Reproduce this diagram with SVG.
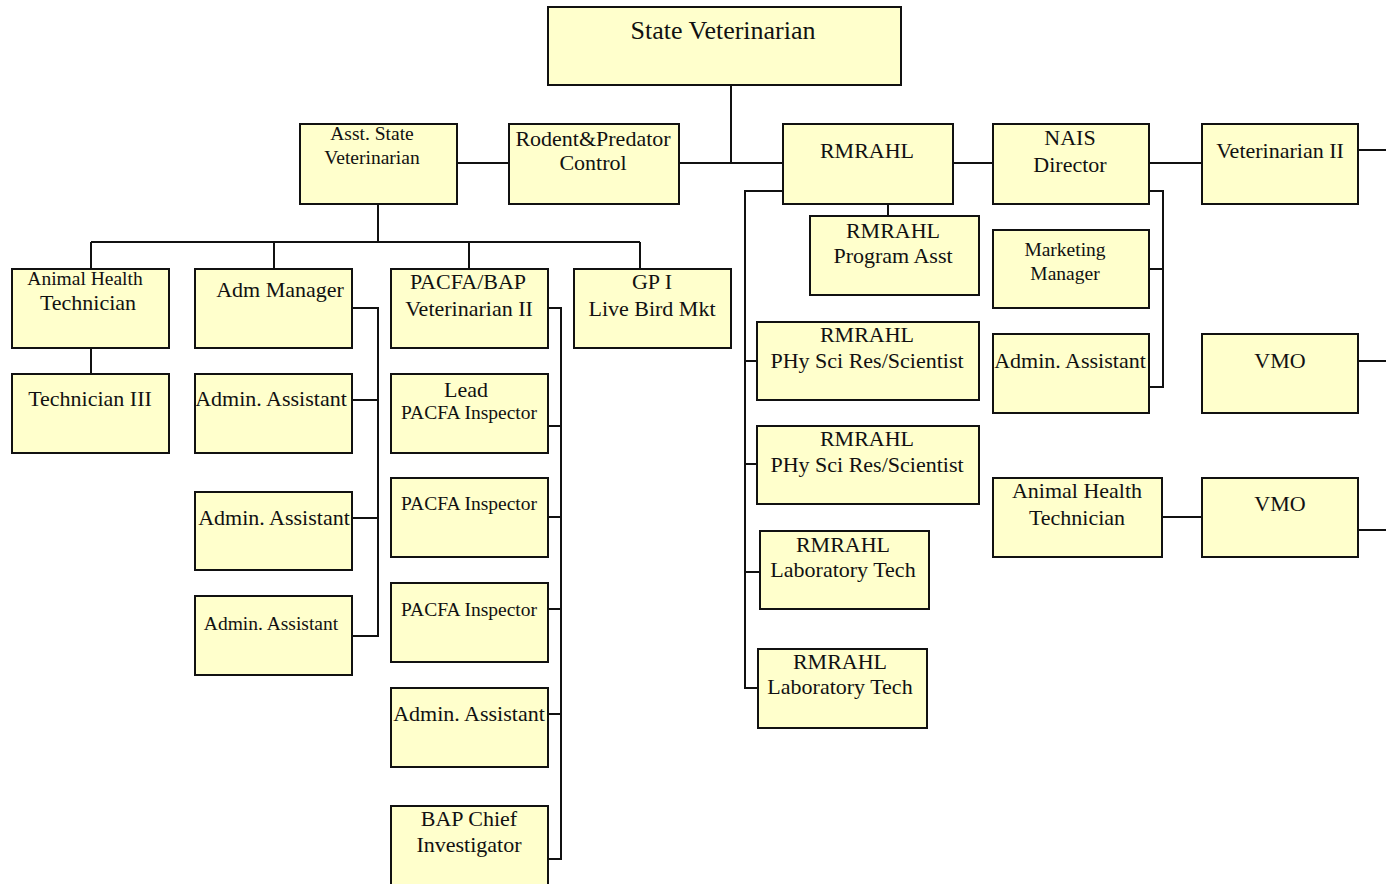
<svg xmlns="http://www.w3.org/2000/svg" width="1386" height="884" viewBox="0 0 1386 884">
<style>
.box{fill:#ffffcc;stroke:#111;stroke-width:2}
.t{font-family:"Liberation Serif","Times New Roman",serif;font-size:22px;text-anchor:middle;fill:#111}
.s{font-size:19.5px}
.x{font-size:26px}
.c{fill:none;stroke:#111;stroke-width:2}
</style>
<rect width="1386" height="884" fill="#fff"/>
<g id="connectors">
<path class="c" d="M731 85V163M457 163H509M679 163H783M953 163H993M1149 163H1202M1358 150H1386"/>
<path class="c" d="M888 204V216"/>
<path class="c" d="M783 191H745V688H757M745 361H756M745 464H757M745 572H759"/>
<path class="c" d="M1149 191H1163V387H1149M1149 269H1163"/>
<path class="c" d="M1358 361H1386M1162 517H1202M1358 530H1386"/>
<path class="c" d="M378 204V242M91 242H640M91 242V269M274 242V269M469 242V269M640 242V269"/>
<path class="c" d="M91 348V374"/>
<path class="c" d="M352 308H378V636H352M352 400H378M352 518H378"/>
<path class="c" d="M548 308H561V859H548M548 426H561M548 517H561M548 609H561M548 714H561"/>
</g>
<g id="state-vet"><rect class="box" x="548" y="7" width="353" height="78"/><text class="t x" x="723" y="39">State Veterinarian</text></g>
<g id="asst-state-vet"><rect class="box" x="300" y="124" width="157" height="80"/><text class="t s" x="372" y="140">Asst. State</text><text class="t s" x="372" y="164">Veterinarian</text></g>
<g id="rodent"><rect class="box" x="509" y="124" width="170" height="80"/><text class="t" x="593" y="146">Rodent&amp;Predator</text><text class="t" x="593" y="170">Control</text></g>
<g id="rmrahl"><rect class="box" x="783" y="124" width="170" height="80"/><text class="t" x="867" y="158">RMRAHL</text></g>
<g id="nais"><rect class="box" x="993" y="124" width="156" height="80"/><text class="t" x="1070" y="145">NAIS</text><text class="t" x="1070" y="172">Director</text></g>
<g id="vet2-top"><rect class="box" x="1202" y="124" width="156" height="80"/><text class="t" x="1280" y="158">Veterinarian II</text></g>
<g id="rmrahl-prog"><rect class="box" x="810" y="216" width="169" height="79"/><text class="t" x="893" y="238">RMRAHL</text><text class="t" x="893" y="263">Program Asst</text></g>
<g id="marketing"><rect class="box" x="993" y="230" width="156" height="78"/><text class="t s" x="1065" y="256">Marketing</text><text class="t s" x="1065" y="280">Manager</text></g>
<g id="aht-left"><rect class="box" x="12" y="269" width="157" height="79"/><text class="t s" x="85" y="285">Animal Health</text><text class="t" x="88" y="310">Technician</text></g>
<g id="adm-manager"><rect class="box" x="195" y="269" width="157" height="79"/><text class="t" x="280" y="297">Adm Manager</text></g>
<g id="pacfa-bap"><rect class="box" x="391" y="269" width="157" height="79"/><text class="t" x="468" y="289">PACFA/BAP</text><text class="t" x="469" y="316">Veterinarian II</text></g>
<g id="gp1"><rect class="box" x="574" y="269" width="157" height="79"/><text class="t" x="652" y="289">GP I</text><text class="t" x="652" y="316">Live Bird Mkt</text></g>
<g id="tech3"><rect class="box" x="12" y="374" width="157" height="79"/><text class="t" x="90" y="406">Technician III</text></g>
<g id="admin1"><rect class="box" x="195" y="374" width="157" height="79"/><text class="t" x="271" y="406">Admin. Assistant</text></g>
<g id="admin2"><rect class="box" x="195" y="492" width="157" height="78"/><text class="t" x="274" y="525">Admin. Assistant</text></g>
<g id="admin3"><rect class="box" x="195" y="596" width="157" height="79"/><text class="t s" x="271" y="630">Admin. Assistant</text></g>
<g id="lead-pacfa"><rect class="box" x="391" y="374" width="157" height="79"/><text class="t" x="466" y="397">Lead</text><text class="t s" x="469" y="419">PACFA Inspector</text></g>
<g id="pacfa1"><rect class="box" x="391" y="478" width="157" height="79"/><text class="t s" x="469" y="510">PACFA Inspector</text></g>
<g id="pacfa2"><rect class="box" x="391" y="583" width="157" height="79"/><text class="t s" x="469" y="616">PACFA Inspector</text></g>
<g id="admin-pacfa"><rect class="box" x="391" y="688" width="157" height="79"/><text class="t" x="469" y="721">Admin. Assistant</text></g>
<g id="bap-chief"><rect class="box" x="391" y="806" width="157" height="80"/><text class="t" x="469" y="826">BAP Chief</text><text class="t" x="469" y="852">Investigator</text></g>
<g id="phy1"><rect class="box" x="757" y="322" width="222" height="78"/><text class="t" x="867" y="342">RMRAHL</text><text class="t" x="867" y="368">PHy Sci Res/Scientist</text></g>
<g id="phy2"><rect class="box" x="757" y="426" width="222" height="78"/><text class="t" x="867" y="446">RMRAHL</text><text class="t" x="867" y="472">PHy Sci Res/Scientist</text></g>
<g id="lab1"><rect class="box" x="760" y="531" width="169" height="78"/><text class="t" x="843" y="552">RMRAHL</text><text class="t" x="843" y="577">Laboratory Tech</text></g>
<g id="lab2"><rect class="box" x="758" y="649" width="169" height="79"/><text class="t" x="840" y="669">RMRAHL</text><text class="t" x="840" y="694">Laboratory Tech</text></g>
<g id="admin-nais"><rect class="box" x="993" y="334" width="156" height="79"/><text class="t" x="1070" y="368">Admin. Assistant</text></g>
<g id="vmo1"><rect class="box" x="1202" y="334" width="156" height="79"/><text class="t" x="1280" y="368">VMO</text></g>
<g id="aht-right"><rect class="box" x="993" y="478" width="169" height="79"/><text class="t" x="1077" y="498">Animal Health</text><text class="t" x="1077" y="525">Technician</text></g>
<g id="vmo2"><rect class="box" x="1202" y="478" width="156" height="79"/><text class="t" x="1280" y="511">VMO</text></g>
</svg>
